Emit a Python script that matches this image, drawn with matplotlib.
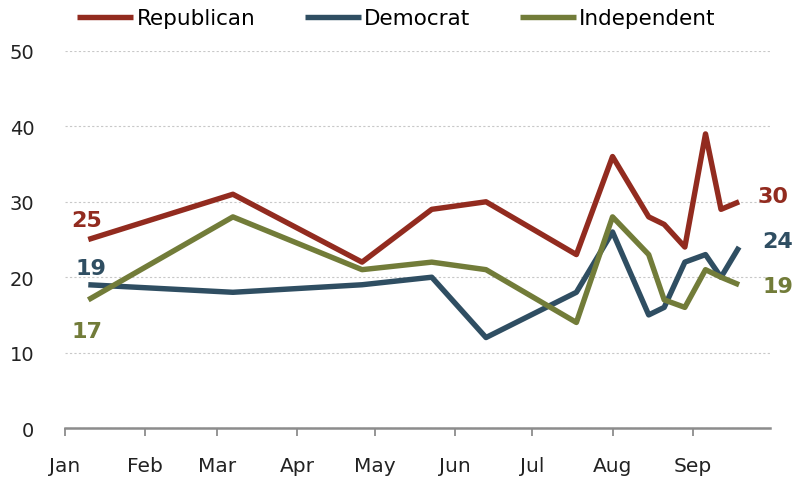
import matplotlib.pyplot as plt
import matplotlib.dates as mdates
import numpy as np

dates = ["2023-01-10", "2023-03-07", "2023-04-26", "2023-05-23", "2023-06-13",
         "2023-07-18", "2023-08-01", "2023-08-15", "2023-08-21", "2023-08-29",
         "2023-09-06", "2023-09-12", "2023-09-19"]
republican = [25, 31, 22, 29, 30, 23, 36, 28, 27, 24, 39, 29, 30]
democrat = [19, 18, 19, 20, 12, 18, 26, 15, 16, 22, 23, 20, 24]
independent = [17, 28, 21, 22, 21, 14, 28, 23, 17, 16, 21, 20, 19]

rep_col = "#922b1f"
dem_col = "#2f4e62"
ind_col = "#727c39"

x = np.array(dates, dtype="datetime64[D]")

fig = plt.figure(figsize=(8.03, 4.81), dpi=100)
ax = fig.add_axes([0.081, 0.108, 0.878, 0.784])

ax.plot(x, republican, color=rep_col, lw=3.9, label="Republican", solid_capstyle="butt")
ax.plot(x, democrat, color=dem_col, lw=3.9, label="Democrat", solid_capstyle="butt")
ax.plot(x, independent, color=ind_col, lw=3.9, label="Independent", solid_capstyle="butt")

ax.set_ylim(0, 50)
ax.set_xlim(np.datetime64("2023-01-01"), np.datetime64("2023-10-01"))
ax.set_yticks([0, 10, 20, 30, 40, 50])
ax.xaxis.set_major_locator(mdates.MonthLocator(bymonth=range(1, 10)))
ax.xaxis.set_major_formatter(mdates.DateFormatter("%b"))

ax.yaxis.grid(True, color="#c8c8c8", ls=(0, (2, 2)), lw=0.8)
ax.set_axisbelow(True)
for s in ["left", "right", "top"]:
    ax.spines[s].set_visible(False)
ax.spines["bottom"].set_color("#8c8c8c")
ax.spines["bottom"].set_linewidth(1.8)
ax.tick_params(axis="x", colors="#8c8c8c", length=6, width=1.3, pad=14,
               labelsize=14.5, labelcolor="#222222")
ax.tick_params(axis="y", length=0, pad=22, labelsize=14, labelcolor="#222222")

# end labels
lab = dict(fontsize=16, fontweight="bold")
ax.annotate(str(republican[0]), (x[0], republican[0]), xytext=(-12, 10),
            textcoords="offset points", color=rep_col, ha="left", **lab)
ax.annotate(str(democrat[0]), (x[0], democrat[0]), xytext=(-9, 8),
            textcoords="offset points", color=dem_col, ha="left", **lab)
ax.annotate(str(independent[0]), (x[0], independent[0]), xytext=(-12, -27),
            textcoords="offset points", color=ind_col, ha="left", **lab)
ax.annotate(str(republican[-1]), (x[-1], republican[-1]), xytext=(13, 4),
            textcoords="offset points", color=rep_col, ha="left", va="center", **lab)
ax.annotate(str(democrat[-1]), (x[-1], democrat[-1]), xytext=(17, 4),
            textcoords="offset points", color=dem_col, ha="left", va="center", **lab)
ax.annotate(str(independent[-1]), (x[-1], independent[-1]), xytext=(17, -1),
            textcoords="offset points", color=ind_col, ha="left", va="center", **lab)

ax.legend(loc="lower center", bbox_to_anchor=(0.47, 1.02), ncol=3, frameon=False,
          fontsize=15.5, handlelength=2.6, handletextpad=0.15, columnspacing=2.3,
          borderaxespad=0.3)

fig.savefig("out.png", dpi=100)
